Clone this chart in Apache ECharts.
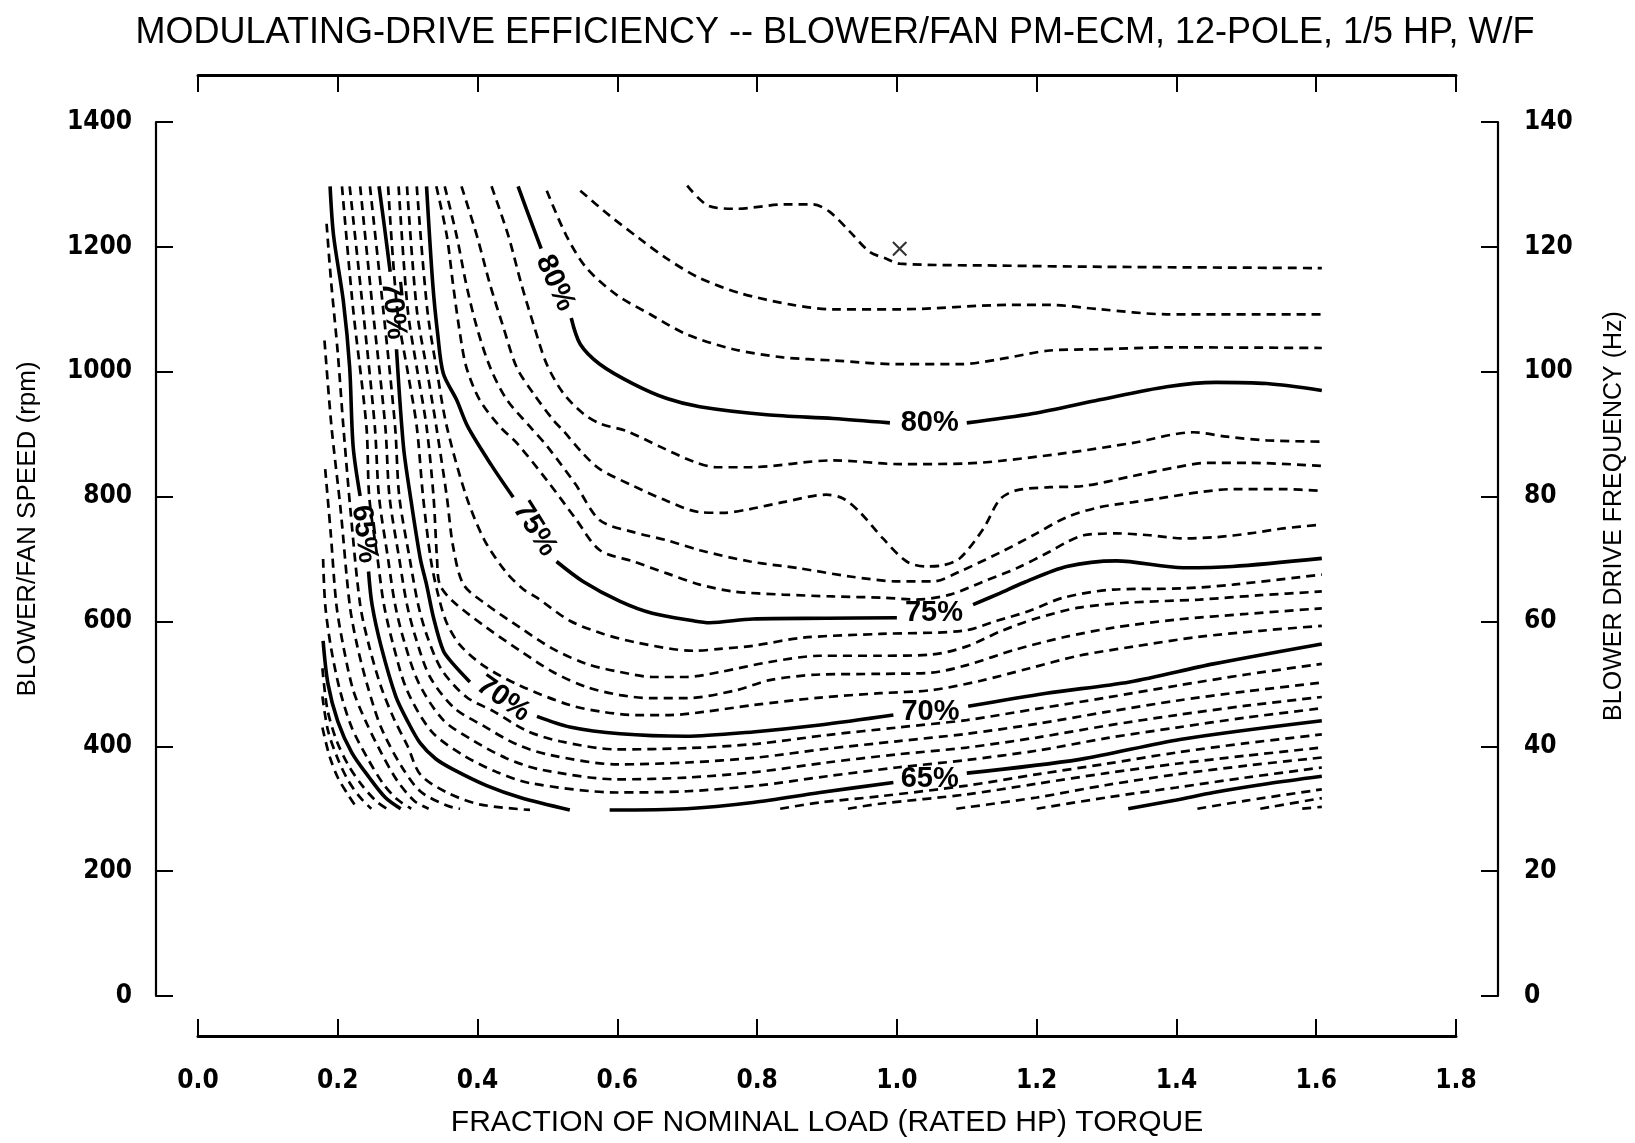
<!DOCTYPE html>
<html><head><meta charset="utf-8">
<script src="https://cdn.jsdelivr.net/npm/echarts@6/dist/echarts.min.js"></script>
<style>html,body{margin:0;padding:0;background:#fff}#c{width:1635px;height:1143px}</style>
</head><body><div id="c"></div>
<script>
// ---- tick values ----
const xTicks = [0.0,0.2,0.4,0.6,0.8,1.0,1.2,1.4,1.6,1.8];
const rpmTicks = [0,200,400,600,800,1000,1200,1400];
const hzTicks = [0,20,40,60,80,100,120,140];

// ---- contour lines (efficiency %), each a list of segments of [torque fraction, rpm] ----
const c83 = [[[0.70,1298],[0.73,1266],[0.77,1261],[0.84,1268],[0.88,1268],[0.904,1256],[0.933,1224],[0.961,1192],[0.985,1181],[1.004,1173],[1.147,1170],[1.3,1168],[1.608,1166]]];
const c82 = [[[0.547,1290],[0.589,1250],[0.632,1213],[0.671,1181],[0.718,1150],[0.775,1126],[0.851,1107],[0.909,1100],[1.004,1100],[1.162,1107],[1.219,1107],[1.29,1100],[1.386,1092],[1.608,1092]]];
const c81 = [[[0.499,1290],[0.527,1218],[0.556,1166],[0.599,1123],[0.647,1092],[0.699,1060],[0.766,1036],[0.837,1023],[0.909,1018],[1.004,1012],[1.09,1012],[1.147,1020],[1.219,1034],[1.29,1036],[1.386,1039],[1.608,1038]]];
const c80 = [[[0.458,1297],[0.47,1260],[0.491,1197]],
             [[0.534,1086],[0.547,1044],[0.575,1012],[0.622,981],[0.671,957],[0.718,944],[0.814,931],[0.909,925],[0.99,918]],
             [[1.10,918],[1.195,933],[1.29,955],[1.386,976],[1.457,983],[1.529,981],[1.608,970]]];
const c79 = [[[0.42,1297],[0.444,1218],[0.463,1139],[0.48,1076],[0.499,1012],[0.523,965],[0.551,933],[0.575,917],[0.613,905],[0.661,880],[0.709,856],[0.742,847],[0.79,847],[0.909,858],[1.004,852],[1.10,853],[1.147,857],[1.243,870],[1.338,886],[1.424,903],[1.472,896],[1.529,890],[1.608,888]]];
const c78 = [[[0.377,1297],[0.399,1218],[0.418,1139],[0.437,1071],[0.456,1007],[0.48,965],[0.508,923],[0.523,905],[0.55,870],[0.575,844],[0.623,817],[0.671,793],[0.718,775],[0.751,774],[0.79,780],[0.837,791],[0.899,803],[0.923,797],[0.947,775],[0.98,733],[1.014,696],[1.042,688],[1.066,690],[1.09,701],[1.124,749],[1.147,795],[1.171,810],[1.219,815],[1.267,817],[1.338,833],[1.395,846],[1.443,854],[1.505,854],[1.608,849]]];
const c77 = [[[0.353,1297],[0.37,1218],[0.384,1139],[0.399,1071],[0.418,1007],[0.442,955],[0.475,912],[0.50,880],[0.54,820],[0.575,762],[0.623,743],[0.671,730],[0.718,714],[0.79,696],[0.861,685],[0.933,672],[1.004,664],[1.052,664],[1.09,680],[1.147,710],[1.195,738],[1.243,767],[1.29,783],[1.338,791],[1.386,799],[1.433,807],[1.481,812],[1.553,812],[1.608,809]]];
const c76 = [[[0.341,1297],[0.356,1218],[0.365,1139],[0.375,1060],[0.384,1007],[0.403,955],[0.432,912],[0.456,886],[0.50,825],[0.54,765],[0.575,714],[0.623,696],[0.671,677],[0.718,659],[0.766,648],[0.837,643],[0.909,640],[0.98,638],[1.028,635],[1.076,643],[1.124,664],[1.171,685],[1.219,712],[1.243,727],[1.267,738],[1.314,741],[1.362,738],[1.41,733],[1.457,735],[1.505,741],[1.553,749],[1.608,755]]];
const c75 = [[[0.327,1297],[0.336,1139],[0.343,1060],[0.351,997],[0.37,955],[0.386,912],[0.42,850],[0.451,799]],
             [[0.513,696],[0.551,664],[0.604,632],[0.65,613],[0.709,601],[0.732,598],[0.794,604],[0.90,605],[1.0,606]],
             [[1.109,627],[1.147,645],[1.181,662],[1.243,688],[1.314,697],[1.41,686],[1.48,688],[1.608,701]]];
const c74 = [[[0.313,1297],[0.328,1100],[0.342,1000],[0.356,912],[0.384,800],[0.41,730],[0.44,680],[0.465,652],[0.485,638],[0.532,601],[0.58,580],[0.628,566],[0.709,553],[0.747,556],[0.794,561],[0.866,574],[0.976,580],[1.095,585],[1.143,601],[1.19,617],[1.238,638],[1.31,651],[1.41,653],[1.481,659],[1.608,675]]];
const c73 = [[[0.299,1297],[0.313,1100],[0.328,1000],[0.341,912],[0.356,800],[0.365,720],[0.38,659],[0.413,627],[0.461,590],[0.508,556],[0.556,532],[0.604,519],[0.651,511],[0.699,511],[0.747,519],[0.818,535],[0.89,545],[0.976,545],[1.05,547],[1.10,560],[1.15,585],[1.20,605],[1.26,622],[1.33,630],[1.433,635],[1.52,642],[1.608,648]]];
const c72 = [[[0.287,1297],[0.30,1100],[0.314,1000],[0.327,912],[0.337,800],[0.342,700],[0.346,659],[0.365,632],[0.413,590],[0.461,553],[0.508,519],[0.556,495],[0.604,482],[0.651,477],[0.699,477],[0.771,490],[0.818,506],[0.89,515],[0.976,516],[1.05,518],[1.10,530],[1.17,555],[1.24,575],[1.31,590],[1.40,603],[1.50,612],[1.608,621]]];
const c71 = [[[0.272,1297],[0.285,1100],[0.30,1000],[0.313,912],[0.322,800],[0.333,700],[0.342,650],[0.355,600],[0.375,562],[0.41,528],[0.461,497],[0.532,466],[0.58,455],[0.628,450],[0.675,450],[0.723,455],[0.794,466],[0.89,478],[0.976,485],[1.05,490],[1.12,505],[1.19,525],[1.26,545],[1.34,560],[1.43,575],[1.52,585],[1.608,593]]];
const c70 = [[[0.259,1297],[0.267,1230],[0.275,1160]],
             [[0.284,1036],[0.294,880],[0.303,807],[0.318,701],[0.327,659],[0.337,606],[0.351,553],[0.365,532],[0.389,503]],
             [[0.485,448],[0.532,431],[0.604,420],[0.698,416],[0.794,423],[0.89,434],[0.995,450]],
             [[1.102,464],[1.214,485],[1.333,503],[1.453,532],[1.608,564]]];
const c69 = [[[0.246,1297],[0.265,1100],[0.282,912],[0.288,800],[0.303,700],[0.315,627],[0.328,576],[0.349,522],[0.384,479],[0.423,456],[0.47,425],[0.518,408],[0.6,395],[0.7,397],[0.8,404],[0.9,418],[1.0,430],[1.1,442],[1.2,460],[1.3,478],[1.4,497],[1.5,515],[1.608,532]]];
const c68 = [[[0.232,1297],[0.25,1100],[0.268,912],[0.274,800],[0.288,700],[0.299,627],[0.312,572],[0.332,511],[0.367,461],[0.408,433],[0.456,403],[0.504,386],[0.6,371],[0.7,374],[0.8,382],[0.9,396],[1.0,408],[1.1,420],[1.2,436],[1.3,455],[1.4,473],[1.5,488],[1.608,502]]];
const c67 = [[[0.217,1297],[0.236,1100],[0.253,912],[0.259,800],[0.272,700],[0.282,627],[0.295,568],[0.316,501],[0.351,442],[0.394,409],[0.441,381],[0.489,363],[0.6,347],[0.7,350],[0.8,359],[0.9,374],[1.0,387],[1.1,398],[1.2,414],[1.3,433],[1.4,450],[1.5,465],[1.608,479]]];
const c66 = [[[0.206,1297],[0.222,1100],[0.241,912],[0.245,800],[0.257,700],[0.266,627],[0.279,564],[0.299,490],[0.334,424],[0.379,386],[0.427,359],[0.475,341],[0.6,326],[0.7,328],[0.8,337],[0.9,352],[1.0,366],[1.1,378],[1.2,393],[1.3,413],[1.4,430],[1.5,446],[1.608,461]]];
const c65 = [[[0.189,1297],[0.194,1218],[0.208,1113],[0.217,1007],[0.222,880],[0.232,801]],
             [[0.244,680],[0.249,627],[0.262,560],[0.283,480],[0.30,440],[0.318,405],[0.34,380],[0.365,363],[0.413,337],[0.461,318],[0.532,298]],
             [[0.589,298],[0.699,300],[0.794,310],[0.89,326],[0.995,342]],
             [[1.10,357],[1.262,379],[1.405,411],[1.608,441]]];
const c64 = [[[0.184,1237],[0.19,1150],[0.20,1030],[0.208,912],[0.218,780],[0.232,627],[0.245,560],[0.262,495],[0.28,445],[0.30,400],[0.318,355],[0.356,326],[0.403,307],[0.475,298]],
             [[0.833,300],[0.89,310],[0.976,320],[1.1,337],[1.2,355],[1.3,372],[1.4,390],[1.5,405],[1.608,419]]];
const c63 = [[[0.181,1050],[0.191,912],[0.204,780],[0.217,627],[0.228,560],[0.243,495],[0.262,430],[0.29,370],[0.318,328],[0.356,305],[0.375,300]],
             [[0.93,300],[0.976,308],[1.1,323],[1.2,340],[1.3,357],[1.4,372],[1.5,385],[1.608,398]]];
const c62 = [[[0.182,844],[0.19,740],[0.198,627],[0.208,560],[0.222,490],[0.24,440],[0.262,390],[0.285,345],[0.31,312],[0.33,300]],
             [[1.085,300],[1.2,318],[1.3,338],[1.4,355],[1.5,369],[1.608,382]]];
const c61 = [[[0.179,700],[0.182,627],[0.19,560],[0.203,490],[0.22,430],[0.243,380],[0.265,340],[0.285,315],[0.305,300]],
             [[1.2,300],[1.3,318],[1.4,334],[1.5,350],[1.608,366]]];
const c60 = [[[0.179,569],[0.186,500],[0.20,440],[0.22,390],[0.245,350],[0.268,318],[0.29,300]],
             [[1.331,300],[1.4,314],[1.453,326],[1.53,340],[1.608,352]]];
const c59 = [[[0.178,525],[0.185,460],[0.198,410],[0.215,370],[0.235,337],[0.255,312],[0.27,300]],
             [[1.43,300],[1.5,313],[1.608,331]]];
const c58 = [[[0.178,480],[0.186,425],[0.20,380],[0.215,345],[0.232,318],[0.248,300]],
             [[1.52,300],[1.608,317]]];
const c57 = [[[0.178,430],[0.188,385],[0.20,350],[0.215,322],[0.228,300]],
             [[1.58,300],[1.608,303]]];

const contourLevels = [83,82,81,80,79,78,77,76,75,74,73,72,71,70,69,68,67,66,65,64,63,62,61,60,59,58,57];
const contourLines = [c83,c82,c81,c80,c79,c78,c77,c76,c75,c74,c73,c72,c71,c70,c69,c68,c67,c66,c65,c64,c63,c62,c61,c60,c59,c58,c57];
const solidLevels = [80,75,70,65,60];

// contour labels: [torque, rpm]
const labelPts = [[0.511,1142],[1.047,918],[0.2795,1098],[0.482,748],[1.053,614],[0.238,740],[0.437,476],[1.048,455],[1.047,348]];
const labelText = ['80%','80%','70%','75%','75%','65%','70%','70%','65%'];
const labelRot = [-66,0,-84,-58,0,-83,-35,0,0];

// maximum-efficiency marker
const maxPt = [[1.004,1197]];

const TXT = "'Liberation Sans', Arial, sans-serif";
const NUM = "'Liberation Sans Narrow', 'DejaVu Sans Condensed', 'Roboto Condensed', 'Liberation Sans', Arial, sans-serif";

const series = [];
contourLines.forEach((segs, i) => {
  const solid = solidLevels.includes(contourLevels[i]);
  segs.forEach(seg => {
    series.push({
      type: 'line', data: seg, showSymbol: false, smooth: 0.3, silent: true,
      xAxisIndex: 0, yAxisIndex: 0,
      lineStyle: { color: '#000', width: solid ? 3.6 : 2.7, type: solid ? 'solid' : [9, 6], cap: 'butt' }
    });
  });
});
series.push({
  type: 'scatter', xAxisIndex: 0, yAxisIndex: 0, symbolSize: 1, silent: true,
  itemStyle: { color: 'rgba(0,0,0,0)' },
  data: labelPts.map((p, i) => ({ value: p, label: { rotate: labelRot[i] } })),
  label: { show: true, position: 'inside', formatter: p => labelText[p.dataIndex],
           fontSize: 29, fontWeight: 'bold', color: '#000', opacity: 1,
           textBorderWidth: 0, textBorderColor: 'transparent', fontFamily: TXT }
});
series.push({
  type: 'scatter', xAxisIndex: 0, yAxisIndex: 0, silent: true,
  symbol: 'path://M0,1 L1,0 L5,4 L9,0 L10,1 L6,5 L10,9 L9,10 L5,6 L1,10 L0,9 L4,5 Z',
  symbolSize: 15, itemStyle: { color: '#000' }, data: maxPt
});

const axLine = w => ({ show: true, onZero: false, lineStyle: { color: '#000', width: w } });
const tick = { show: true, inside: true, length: 17, lineStyle: { color: '#000', width: 2 } };
const numStyle = { fontSize: 26, fontWeight: 'bold', color: '#000', fontFamily: NUM };

const chart = echarts.init(document.getElementById('c'), null, { renderer: 'canvas' });
chart.setOption({
  animation: false,
  backgroundColor: '#fff',
  title: {
    text: 'MODULATING-DRIVE EFFICIENCY -- BLOWER/FAN PM-ECM, 12-POLE, 1/5 HP, W/F',
    left: 830, top: 10, textAlign: 'center',
    textStyle: { fontSize: 36, fontWeight: 'normal', color: '#000', fontFamily: TXT }
  },
  grid: { left: 198, right: 179, top: 122, bottom: 137, containLabel: false },
  xAxis: [
    { type: 'value', position: 'bottom', min: xTicks[0], max: xTicks[xTicks.length - 1], interval: 0.2, offset: 40,
      axisLine: axLine(3), axisTick: tick, splitLine: { show: false },
      axisLabel: Object.assign({ formatter: v => v.toFixed(1), margin: 32 }, numStyle),
      name: 'FRACTION OF NOMINAL LOAD (RATED HP) TORQUE', nameLocation: 'middle', nameGap: 72, nameMoveOverlap: false,
      nameTextStyle: { fontSize: 30, color: '#000', fontFamily: TXT } },
    { type: 'value', position: 'top', min: xTicks[0], max: xTicks[xTicks.length - 1], interval: 0.2, offset: 47,
      axisLine: axLine(3), axisTick: tick, splitLine: { show: false }, axisLabel: { show: false } }
  ],
  yAxis: [
    { type: 'value', position: 'left', min: rpmTicks[0], max: rpmTicks[rpmTicks.length - 1], interval: 200, offset: 42,
      axisLine: axLine(2.2), axisTick: tick, splitLine: { show: false },
      axisLabel: Object.assign({ formatter: v => String(v), margin: 24 }, numStyle),
      name: 'BLOWER/FAN SPEED (rpm)', nameLocation: 'middle', nameRotate: 90, nameGap: 115, nameMoveOverlap: false,
      nameTextStyle: { fontSize: 26, color: '#000', fontFamily: TXT, padding: [0, 0, 0, 60] } },
    { type: 'value', position: 'right', min: hzTicks[0], max: hzTicks[hzTicks.length - 1], interval: 20, offset: 42,
      axisLine: axLine(2.2), axisTick: tick, splitLine: { show: false },
      axisLabel: Object.assign({ formatter: v => String(v), margin: 26 }, numStyle),
      name: 'BLOWER DRIVE FREQUENCY (Hz)', nameLocation: 'middle', nameRotate: 90, nameGap: 104, nameMoveOverlap: false,
      nameTextStyle: { fontSize: 25, color: '#000', fontFamily: TXT, padding: [0, 0, 0, 86] } }
  ],
  series: series
});
</script></body></html>
